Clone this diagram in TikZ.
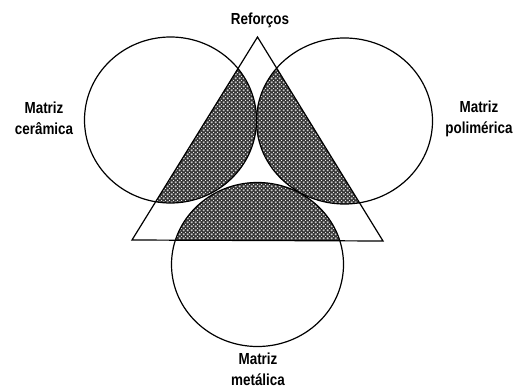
\documentclass[tikz,border=0pt]{standalone}
\usepackage{fontspec}
\setmainfont{Liberation Sans}
\usetikzlibrary{patterns}
\pgfdeclarepatternformonly{coarsedots}{\pgfpointorigin}{\pgfpoint{4pt}{4pt}}{\pgfpoint{4pt}{4pt}}{
  \pgfpathcircle{\pgfpoint{0pt}{0pt}}{0.75pt}
  \pgfpathcircle{\pgfpoint{4pt}{0pt}}{0.75pt}
  \pgfpathcircle{\pgfpoint{0pt}{4pt}}{0.75pt}
  \pgfpathcircle{\pgfpoint{4pt}{4pt}}{0.75pt}
  \pgfpathcircle{\pgfpoint{2pt}{2pt}}{0.75pt}
  \pgfusepath{fill}
}
\tikzset{
  outline/.style={draw=black, line width=1.2pt},
  hatched/.style={preaction={fill=black!80}, pattern=coarsedots, pattern color=white},
  lbl/.style={font=\fontsize{16}{21}\selectfont\bfseries, align=center, inner sep=0pt, xscale=0.84}
}
\begin{document}
\begin{tikzpicture}[x=1pt,y=-1pt]
\useasboundingbox (0,0) rectangle (518,390);
\coordinate (A) at (257.5,37);
\coordinate (B) at (132,240);
\coordinate (C) at (383,241);
\coordinate (L) at (170.5,120);
\coordinate (R) at (344.5,121);
\coordinate (M) at (257.5,264.5);
\begin{scope}
  \clip (A) -- (B) -- (C) -- cycle;
  \fill[hatched] (L) ellipse [x radius=86, y radius=83];
  \fill[hatched] (R) ellipse [x radius=88, y radius=83];
  \fill[hatched] (M) ellipse [x radius=86, y radius=82];
\end{scope}
\draw[outline] (L) ellipse [x radius=86, y radius=83];
\draw[outline] (R) ellipse [x radius=88, y radius=83];
\draw[outline] (M) ellipse [x radius=86, y radius=82];
\draw[outline, line join=miter] (A) -- (B) -- (C) -- cycle;
\node[lbl] (ref) at (260,20) {Reforços};
\node[lbl] (cer) at (44,118) {Matriz\\cerâmica};
\node[lbl] (pol) at (479,119) {Matriz\\polimérica};
\node[lbl] (met) at (258,369) {Matriz\\metálica};
\end{tikzpicture}
\end{document}
